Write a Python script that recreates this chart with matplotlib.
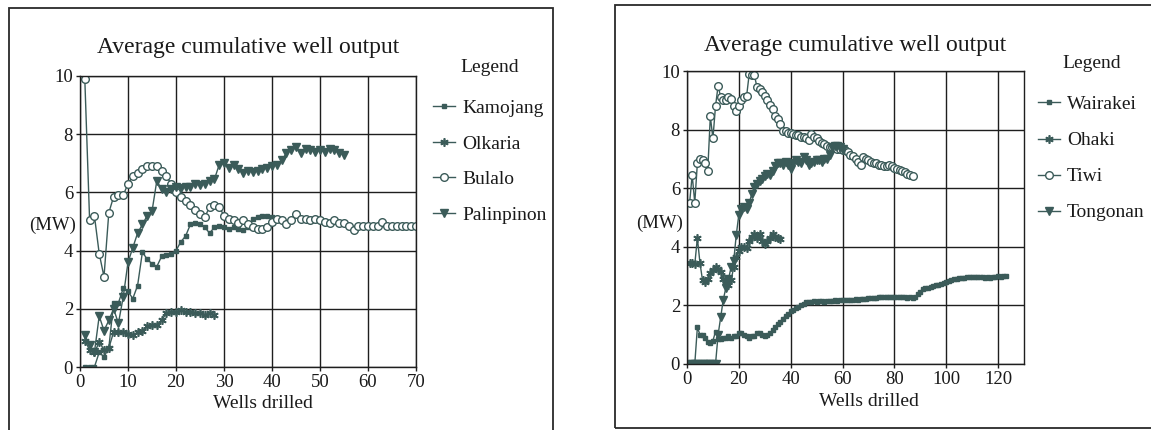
import matplotlib
matplotlib.use('Agg')

import matplotlib.pyplot as plt
from matplotlib.patches import Rectangle

plt.rcParams['font.family'] = ['Liberation Serif', 'DejaVu Serif']

# 颜色
COLOR_LINE = '#3b5b59'
COLOR_GRID = '#1e1e1e'
COLOR_TEXT = '#1a1a1a'

W, H = 1151, 430

# ---------------- 左图数据 ----------------
kamojang_x = list(range(1, 41))
kamojang_y = [0, 0, 0, 0.5, 0.35, 0.65, 2.2, 2.2, 2.7, 2.6,
              2.35, 2.8, 3.95, 3.7, 3.55, 3.45, 3.8, 3.85, 3.9, 4.0,
              4.3, 4.5, 4.9, 4.95, 4.9, 4.8, 4.6, 4.8, 4.85, 4.8,
              4.75, 4.8, 4.75, 4.7, 4.8, 5.1, 5.15, 5.2, 5.2, 5.15]

olkaria_x = list(range(1, 29))
olkaria_y = [0.9, 0.6, 0.5, 0.85, 0.6, 0.65, 1.2, 1.2, 1.2, 1.15,
             1.1, 1.2, 1.25, 1.4, 1.45, 1.45, 1.6, 1.85, 1.9, 1.9,
             1.95, 1.9, 1.9, 1.85, 1.85, 1.8, 1.85, 1.8]

bulalo_x = list(range(1, 71))
bulalo_y = [9.9, 5.05, 5.2, 3.9, 3.1, 5.3, 5.85, 5.9, 5.9, 6.3,
            6.55, 6.65, 6.8, 6.9, 6.92, 6.92, 6.75, 6.55, 6.3, 6.0,
            5.85, 5.7, 5.55, 5.4, 5.25, 5.15, 5.5, 5.55, 5.5, 5.2,
            5.1, 5.05, 4.95, 5.05, 4.9, 4.8, 4.75, 4.75, 4.8, 5.0,
            5.1, 5.05, 4.9, 5.05, 5.25, 5.1, 5.1, 5.05, 5.1, 5.05,
            5.0, 4.95, 5.05, 4.95, 4.95, 4.85, 4.7, 4.83, 4.85, 4.85,
            4.85, 4.85, 4.98, 4.85, 4.85, 4.85, 4.85, 4.85, 4.85, 4.85]

palinpinon_x = list(range(1, 56))
palinpinon_y = [1.1, 0.75, 0.5, 1.75, 1.25, 1.6, 2.0, 1.5, 2.4, 3.6,
                4.1, 4.6, 4.9, 5.2, 5.35, 6.4, 6.1, 6.0, 6.1, 6.2,
                6.15, 6.2, 6.2, 6.3, 6.25, 6.3, 6.4, 6.45, 6.95, 7.0,
                6.85, 6.95, 6.8, 6.65, 6.75, 6.7, 6.75, 6.8, 6.85, 6.9,
                6.95, 7.1, 7.35, 7.45, 7.55, 7.35, 7.5, 7.45, 7.4, 7.45,
                7.4, 7.5, 7.45, 7.35, 7.3]

# ---------------- 右图数据 ----------------
wairakei_x = list(range(1, 124))
wairakei_y = [0, 0, 0, 1.25, 1.0, 1.0, 0.9, 0.75, 0.7, 0.8,
              1.1, 0.85, 0.85, 0.9, 0.9, 0.95, 0.9, 0.95, 0.95, 1.05,
              1.05, 1.0, 0.95, 0.9, 0.95, 0.95, 1.05, 1.05, 1.0, 0.95,
              1.0, 1.05, 1.15, 1.25, 1.35, 1.45, 1.55, 1.65, 1.7, 1.8,
              1.85, 1.9, 1.95, 2.0, 2.05, 2.1, 2.1, 2.12, 2.15, 2.12,
              2.15, 2.15, 2.13, 2.15, 2.16, 2.15, 2.17, 2.16, 2.18, 2.17,
              2.18, 2.2, 2.19, 2.2, 2.21, 2.2, 2.22, 2.23, 2.22, 2.24,
              2.25, 2.24, 2.26, 2.27, 2.28, 2.27, 2.3, 2.28, 2.3, 2.28,
              2.3, 2.3, 2.27, 2.28, 2.26, 2.27, 2.25, 2.3, 2.38, 2.45,
              2.55, 2.58, 2.6, 2.62, 2.66, 2.68, 2.7, 2.74, 2.78, 2.8,
              2.84, 2.86, 2.9, 2.9, 2.93, 2.92, 2.95, 2.97, 2.98, 2.97,
              2.98, 2.98, 2.97, 2.96, 2.95, 2.96, 2.95, 2.96, 2.97, 3.0,
              2.98, 3.02, 2.99]

ohaki_x = list(range(1, 37))
ohaki_y = [3.45, 3.45, 3.4, 4.3, 3.45, 2.85, 2.8, 2.9, 3.1, 3.2,
           3.3, 3.25, 3.15, 2.9, 2.75, 2.7, 2.85, 3.3, 3.65, 3.85,
           4.0, 4.0, 3.95, 4.2, 4.35, 4.45, 4.3, 4.45, 4.2, 4.1,
           4.2, 4.3, 4.45, 4.35, 4.3, 4.25]

tiwi_x = list(range(1, 88))
tiwi_y = [5.5, 6.45, 5.5, 6.85, 7.0, 6.95, 6.85, 6.6, 8.45, 7.7,
          8.8, 9.5, 9.1, 9.0, 9.0, 9.1, 9.05, 8.8, 8.65, 8.8,
          9.0, 9.1, 9.15, 9.9, 9.85, 9.85, 9.45, 9.4, 9.3, 9.15,
          9.0, 8.85, 8.7, 8.45, 8.35, 8.2, 7.95, 7.95, 7.9, 7.9,
          7.85, 7.8, 7.8, 7.75, 7.75, 7.7, 7.65, 7.85, 7.75, 7.7,
          7.6, 7.55, 7.5, 7.45, 7.4, 7.4, 7.4, 7.35, 7.35, 7.3,
          7.3, 7.25, 7.15, 7.1, 7.0, 6.9, 6.8, 7.05, 7.0, 6.95,
          6.9, 6.85, 6.85, 6.8, 6.8, 6.75, 6.75, 6.8, 6.75, 6.7,
          6.65, 6.62, 6.58, 6.55, 6.5, 6.45, 6.4]

tongonan_x = list(range(1, 61))
tongonan_y = [0, 0, 0, 0, 0, 0, 0, 0, 0, 0,
              0, 1.0, 1.6, 2.2, 2.6, 2.9, 3.3, 3.5, 4.4, 5.1,
              5.3, 5.35, 5.3, 5.5, 5.8, 6.05, 6.15, 6.25, 6.3, 6.4,
              6.5, 6.45, 6.6, 6.75, 6.85, 6.85, 6.8, 6.9, 6.8, 6.65,
              6.85, 6.95, 6.9, 6.85, 7.05, 6.95, 6.8, 6.85, 6.9, 6.95,
              6.95, 6.9, 7.0, 7.0, 7.15, 7.4, 7.45, 7.45, 7.4, 7.35]

left_series = [
    ('Kamojang', kamojang_x, kamojang_y, 's'),
    ('Olkaria', olkaria_x, olkaria_y, (6, 2, 0)),
    ('Bulalo', bulalo_x, bulalo_y, 'o'),
    ('Palinpinon', palinpinon_x, palinpinon_y, 'v'),
]
right_series = [
    ('Wairakei', wairakei_x, wairakei_y, 's'),
    ('Ohaki', ohaki_x, ohaki_y, (6, 2, 0)),
    ('Tiwi', tiwi_x, tiwi_y, 'o'),
    ('Tongonan', tongonan_x, tongonan_y, 'v'),
]


def px_rect(x0, y0, x1, y1):
    """像素坐标 -> figure 坐标 [left, bottom, width, height]"""
    return [x0 / W, 1 - y1 / H, (x1 - x0) / W, (y1 - y0) / H]


def marker_style(m):
    if m == 'o':
        return dict(marker='o', markersize=5.5, markerfacecolor='white',
                    markeredgecolor=COLOR_LINE, markeredgewidth=1.0)
    if m == 's':
        return dict(marker='s', markersize=3.5, markerfacecolor=COLOR_LINE,
                    markeredgecolor=COLOR_LINE)
    if m == 'v':
        return dict(marker='v', markersize=5.5, markerfacecolor=COLOR_LINE,
                    markeredgecolor=COLOR_LINE)
    return dict(marker=m, markersize=6, markeredgecolor=COLOR_LINE,
                markeredgewidth=1.2)


def draw_panel(fig, rect, series, xmax, xstep, title_gap, ylab_y, xlab_x,
               xlab_y, legend_anchor, spacing):
    ax = fig.add_axes(rect)
    handles = []
    for name, xs, ys, m in series:
        h, = ax.plot(xs, ys, color=COLOR_LINE, linewidth=1.0, label=name,
                     **marker_style(m))
        handles.append(h)

    ax.set_xlim(0, xmax)
    ax.set_ylim(0, 10)
    ax.set_xticks(range(0, xmax + 1 if xmax % xstep == 0 else xmax, xstep))
    ax.set_yticks(range(0, 11, 2))
    ax.grid(True, color=COLOR_GRID, linewidth=1.0)
    ax.set_axisbelow(True)
    for s in ax.spines.values():
        s.set_color(COLOR_GRID)
        s.set_linewidth(1.0)
    ax.tick_params(length=3, width=1.0, color=COLOR_GRID, labelsize=13.5,
                   labelcolor=COLOR_TEXT, pad=2)

    ax.text(0.5, 1 + title_gap, 'Average cumulative well output',
            transform=ax.transAxes, ha='center', va='center', fontsize=17,
            color=COLOR_TEXT)
    ax.set_ylabel('(MW)', rotation=0, fontsize=13.5, ha='right',
                  va='center', color=COLOR_TEXT)
    ax.yaxis.set_label_coords(-0.012, ylab_y)
    ax.set_xlabel('Wells drilled', fontsize=14, color=COLOR_TEXT,
                  va='center')
    ax.xaxis.set_label_coords(xlab_x, xlab_y)

    leg = fig.legend(handles=handles, title='Legend', loc='upper left',
                     bbox_to_anchor=legend_anchor, frameon=False,
                     fontsize=14, title_fontsize=14, numpoints=1,
                     handlelength=1.15, handletextpad=0.35,
                     labelspacing=spacing, borderpad=0, borderaxespad=0)
    leg._legend_box.sep = 17
    for t in leg.get_texts():
        t.set_color(COLOR_TEXT)
    leg.get_title().set_color(COLOR_TEXT)
    return ax


fig = plt.figure(figsize=(W / 100, H / 100), dpi=100)

# 外框
fig.add_artist(Rectangle((9 / W, -0.05), 544 / W, 1.05 - 8 / H,
                         transform=fig.transFigure, fill=False,
                         edgecolor='#2a2a2a', linewidth=1.3))
fig.add_artist(Rectangle((615 / W, 1 - 428 / H), 0.5, 423 / H,
                         transform=fig.transFigure, fill=False,
                         edgecolor='#2a2a2a', linewidth=1.3))

draw_panel(fig, px_rect(80, 76, 416, 367), left_series, 70, 10,
           28 / 291, 0.488, (263 - 80) / 336, -37 / 291,
           (433 / W, 1 - 59 / H), 0.92)
draw_panel(fig, px_rect(687, 71, 1024, 364), right_series, 130, 20,
           25 / 293, 0.481, (869 - 687) / 337, -38 / 293,
           (1038 / W, 1 - 55 / H), 0.95)

fig.savefig('out.png', dpi=100, facecolor='white')
plt.close(fig)
